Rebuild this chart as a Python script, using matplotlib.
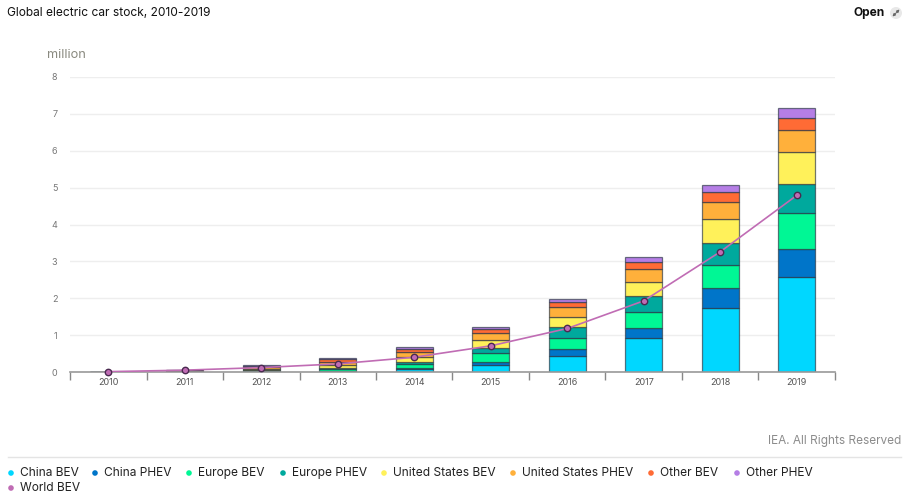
#!/usr/bin/env python3
import numpy as np
import matplotlib
matplotlib.use("Agg")
import matplotlib.pyplot as plt
from matplotlib.patches import Circle

plt.rcParams['font.family'] = ['Inter', 'DejaVu Sans']

years = ['2010', '2011', '2012', '2013', '2014', '2015', '2016', '2017', '2018', '2019']

china_bev = [0.002, 0.006, 0.012, 0.02, 0.07, 0.19, 0.44, 0.92, 1.73, 2.57]
china_phev = [0.0, 0.001, 0.004, 0.01, 0.04, 0.09, 0.19, 0.27, 0.54, 0.77]
europe_bev = [0.002, 0.008, 0.025, 0.05, 0.10, 0.23, 0.29, 0.43, 0.62, 0.98]
europe_phev = [0.0, 0.003, 0.015, 0.03, 0.06, 0.15, 0.29, 0.43, 0.61, 0.77]
us_bev = [0.003, 0.012, 0.03, 0.08, 0.14, 0.21, 0.29, 0.40, 0.64, 0.88]
us_phev = [0.0, 0.01, 0.045, 0.09, 0.14, 0.20, 0.27, 0.34, 0.48, 0.58]
other_bev = [0.006, 0.016, 0.035, 0.06, 0.08, 0.09, 0.14, 0.18, 0.26, 0.34]
other_phev = [0.0, 0.004, 0.014, 0.03, 0.06, 0.07, 0.07, 0.14, 0.19, 0.26]
world_bev = [0.01, 0.05, 0.12, 0.22, 0.40, 0.71, 1.18, 1.93, 3.26, 4.79]

series = [china_bev, china_phev, europe_bev, europe_phev, us_bev, us_phev, other_bev, other_phev]
colors = ['#00D7FF', '#0075C9', '#00F795', '#00A99D', '#FFF15A', '#FFB03B', '#FF6B35', '#B57EE5']
line_color = '#C06CB4'

legend_labels = ['China BEV', 'China PHEV', 'Europe BEV', 'Europe PHEV', 'United States BEV',
                 'United States PHEV', 'Other BEV', 'Other PHEV', 'World BEV']
legend_colors = colors + [line_color]
legend_dot_x = [11, 95, 189, 283, 384, 513, 651, 737, 11]
legend_y = [473] * 8 + [488]

W, H = 912, 497
fig = plt.figure(figsize=(W / 100, H / 100), dpi=100)

# plot area in pixels: x 70-835, y 77-372
ax = fig.add_axes([70 / W, 1 - 372 / H, 765 / W, 295 / H])

x = np.arange(len(years))
bottom = np.zeros(len(years))
for vals, c in zip(series, colors):
    ax.bar(x, vals, width=0.49, bottom=bottom, color=c, edgecolor=(0.15, 0.2, 0.25, 0.65),
           linewidth=0.9, zorder=2)
    bottom += np.array(vals)

ax.plot(x, world_bev, '-', color=line_color, linewidth=1.2, zorder=3)
ax.plot(x, world_bev, 'o', color=line_color, markeredgecolor='#4a2a50', markeredgewidth=1,
        markersize=4.6, zorder=4, clip_on=False)

ax.set_xlim(-0.5, 9.5)
ax.set_ylim(0, 8)
ax.set_yticks(range(0, 9))
ax.yaxis.grid(True, color='#eeeeee', linewidth=1, zorder=0)
ax.set_axisbelow(True)
ax.tick_params(axis='y', length=0, labelsize=6.5, labelcolor='#777777', pad=9)

ax.set_xticks(x)
ax.set_xticklabels(years)
ax.tick_params(axis='x', length=0, labelsize=6.5, labelcolor='#555555', pad=4)
ax.set_xticks(np.arange(-0.5, 10), minor=True)
ax.tick_params(axis='x', which='minor', length=6, width=1, color='#888888')

for s in ['top', 'right', 'left']:
    ax.spines[s].set_visible(False)
ax.spines['bottom'].set_color('#999999')
ax.spines['bottom'].set_linewidth(1.2)


def px_text(px, py, s, **kw):
    fig.text(px / W, 1 - py / H, s, va='center', **kw)


px_text(7, 13, 'Global electric car stock, 2010-2019', fontsize=8.6, color='#111111')
px_text(47, 55, 'million', fontsize=9.2, color='#8a8a80')
px_text(885, 13, 'Open', fontsize=8.6, color='#111111', ha='right', fontweight='bold')
px_text(901, 441, 'IEA. All Rights Reserved', fontsize=8.5, color='#8c8c8c', ha='right')

# expand icon next to Open, no installed font has this arrow so it is drawn
fig.add_artist(Circle((896, H - 13), 6, transform=None, facecolor='#e8e8e8', edgecolor='none'))
fig.add_artist(plt.Annotation('', xy=(899.5, H - 9.5), xytext=(892.5, H - 16.5), xycoords='figure pixels',
                              textcoords='figure pixels',
                              arrowprops=dict(arrowstyle='<|-|>', color='#666666', lw=0.7,
                                              mutation_scale=4, shrinkA=0, shrinkB=0)))

# separator above legend
fig.add_artist(plt.Line2D([8 / W, 901 / W], [1 - 457 / H] * 2, color='#e4e4e4', linewidth=1))

# legend, laid out by hand so it wraps like the original
for label, c, dx, ly in zip(legend_labels, legend_colors, legend_dot_x, legend_y):
    fig.add_artist(Circle((dx, H - ly), 2.8, transform=None, facecolor=c, edgecolor='none'))
    px_text(dx + 9, ly, label, fontsize=8.6, color='#222222')

fig.savefig('out.png', dpi=100)
plt.close(fig)
